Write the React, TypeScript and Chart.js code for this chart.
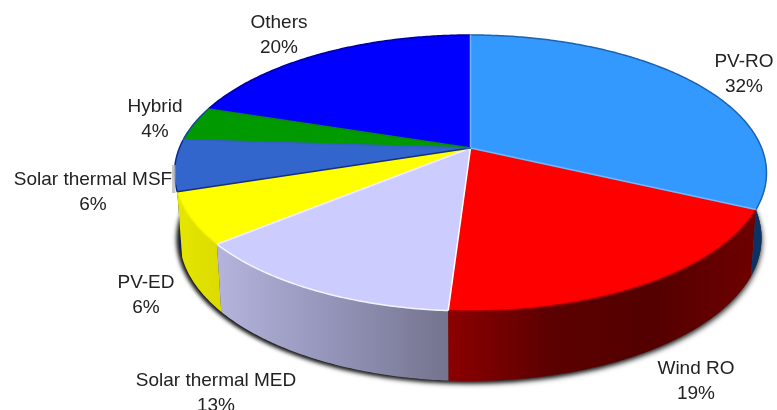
import React, { useEffect, useRef } from "react";
import { Chart, registerables } from "chart.js";

Chart.register(...registerables);

// Shares of desalination technologies, in percent.
const categories = ["PV-RO", "Wind RO", "Solar thermal MED", "PV-ED", "Solar thermal MSF", "Hybrid", "Others"];
const shares = [32, 19, 13, 6, 6, 4, 20];
const faceColors = ["#3399ff", "#ff0000", "#ccccff", "#ffff00", "#3366cc", "#009900", "#0000ff"];

// Side wall gradients, left to right across each slice.
const wallStops = [
  ["#0d3f78", "#0a3264"],
  ["#8c0000", "#5c0000", "#540000", "#6e0000"],
  ["#b4b4dc", "#9494ba", "#74748e"],
  ["#e6e600", "#dcdc00"],
  ["#0a2060", "#0a2060"],
  ["#0a5a0a", "#0a5a0a"],
  ["#0a0a80", "#0a0a80"],
];
const rimColors = ["#1c64ae", "#a00000", "#f4f4ff", "#f0f000", "#0c2a8c", "#0c4aa0", "#0000a0"];
const edgeColors = ["#6fb7ff", "#74b8ff", "#ffffff", "#f0f0ff", "#17307e", "#2f62c4", "#0a8a0a"];

// Centre of the first line of each label.
const labelAnchors = [
  [744, 62],
  [696, 369],
  [216, 381],
  [146, 283],
  [93, 180],
  [155, 107],
  [279, 23],
];

// Projected ellipses of the pie's top face and its bottom edge.
const topEllipse = { cx: 470.5, cy: 173, rx: 296, ry: 138 };
const baseEllipse = { cx: 470.5, cy: 238, rx: 291, ry: 143 };
const tilt = -0.181;

type Ellipse = typeof topEllipse;

// Perspective mapping of a point on the unit disc to an ellipse; the disc centre lands above the ellipse centre.
function project(angle: number, radius: number, e: Ellipse): [number, number] {
  const ux = radius * Math.sin(angle);
  const uy = -radius * Math.cos(angle);
  const w = 1 + tilt * uy;
  const px = (ux * Math.sqrt(1 - tilt * tilt)) / w;
  const py = (uy + tilt) / w;
  return [e.cx + px * e.rx, e.cy + py * e.ry];
}

function traceRim(ctx: CanvasRenderingContext2D, a0: number, a1: number, e: Ellipse, move: boolean) {
  const steps = Math.max(2, Math.ceil(Math.abs(a1 - a0) / 0.01));
  for (let i = 0; i <= steps; i++) {
    const [x, y] = project(a0 + ((a1 - a0) * i) / steps, 1, e);
    if (i === 0 && move) ctx.moveTo(x, y);
    else ctx.lineTo(x, y);
  }
}

function shadowPass(ctx: CanvasRenderingContext2D, color: string, blur: number, dx: number, dy: number) {
  ctx.save();
  ctx.shadowColor = color;
  ctx.shadowBlur = blur;
  ctx.shadowOffsetX = dx;
  ctx.shadowOffsetY = dy;
  ctx.fillStyle = "#444";
  ctx.beginPath();
  traceRim(ctx, 0, Math.PI * 2, baseEllipse, true);
  ctx.closePath();
  ctx.fill();
  ctx.restore();
}

const perspectivePie = {
  id: "perspectivePie",
  beforeDatasetsDraw(chart: Chart) {
    const ctx = chart.ctx;
    const arcs = chart.getDatasetMeta(0).data as any[];
    const spans = arcs.map((arc) => [arc.startAngle + Math.PI / 2, arc.endAngle + Math.PI / 2]);

    // Soft shadow under the base of the pie, heavier on the left.
    shadowPass(ctx, "rgba(0,0,0,0.65)", 5, 1, 3);
    shadowPass(ctx, "rgba(0,0,0,0.9)", 4, -3, 1);

    // Side walls, last slice first, covered at the back by the top face.
    for (let i = spans.length - 1; i >= 0; i--) {
      const [a0, a1] = spans[i];
      const pts = [project(a0, 1, topEllipse), project(a1, 1, topEllipse)];
      const x0 = Math.min(pts[0][0], pts[1][0]);
      const x1 = Math.max(pts[0][0], pts[1][0]);
      const grad = ctx.createLinearGradient(x0, 0, x1, 0);
      wallStops[i].forEach((c, k, all) => grad.addColorStop(k / (all.length - 1), c));
      ctx.fillStyle = grad;
      ctx.beginPath();
      traceRim(ctx, a0, a1, topEllipse, true);
      traceRim(ctx, a1, a0, baseEllipse, false);
      ctx.closePath();
      ctx.fill();
    }

    // Top face slices.
    spans.forEach(([a0, a1], i) => {
      const [ax, ay] = project(0, 0, topEllipse);
      ctx.fillStyle = arcs[i].options.backgroundColor;
      ctx.beginPath();
      ctx.moveTo(ax, ay);
      traceRim(ctx, a0, a1, topEllipse, false);
      ctx.closePath();
      ctx.fill();
    });

    // Rim highlights and slice edges.
    ctx.lineWidth = 1.5;
    spans.forEach(([a0, a1], i) => {
      ctx.strokeStyle = rimColors[i];
      ctx.beginPath();
      traceRim(ctx, a0, a1, topEllipse, true);
      ctx.stroke();
    });
    spans.forEach(([a0], i) => {
      const [ax, ay] = project(0, 0, topEllipse);
      const [x, y] = project(a0, 1, topEllipse);
      ctx.strokeStyle = edgeColors[i];
      ctx.beginPath();
      ctx.moveTo(ax, ay);
      ctx.lineTo(x, y);
      ctx.stroke();
    });

    // Pale backing behind the end of the label that runs onto the pie's rim.
    ctx.fillStyle = "rgba(190,190,190,0.85)";
    ctx.fillRect(172, 165, 3.5, 28);

    // Two-line labels: name and share.
    ctx.fillStyle = "#222";
    ctx.font = '19px "Liberation Sans"';
    ctx.textAlign = "center";
    ctx.textBaseline = "middle";
    categories.forEach((name, i) => {
      const [x, y] = labelAnchors[i];
      ctx.fillText(name, x, y);
      ctx.fillText(`${shares[i]}%`, x, y + 25);
    });

    return false;
  },
};

export default function App() {
  const ref = useRef<HTMLCanvasElement>(null);
  useEffect(() => {
    document.body.style.margin = "0";
    const chart = new Chart(ref.current!, {
      type: "pie",
      data: {
        labels: categories,
        datasets: [{ data: shares, backgroundColor: faceColors, borderWidth: 0 }],
      },
      options: {
        responsive: false,
        animation: false,
        plugins: { legend: { display: false }, tooltip: { enabled: false } },
      },
      plugins: [perspectivePie],
    });
    return () => chart.destroy();
  }, []);
  return <canvas ref={ref} width={777} height={410} style={{ display: "block" }} />;
}
